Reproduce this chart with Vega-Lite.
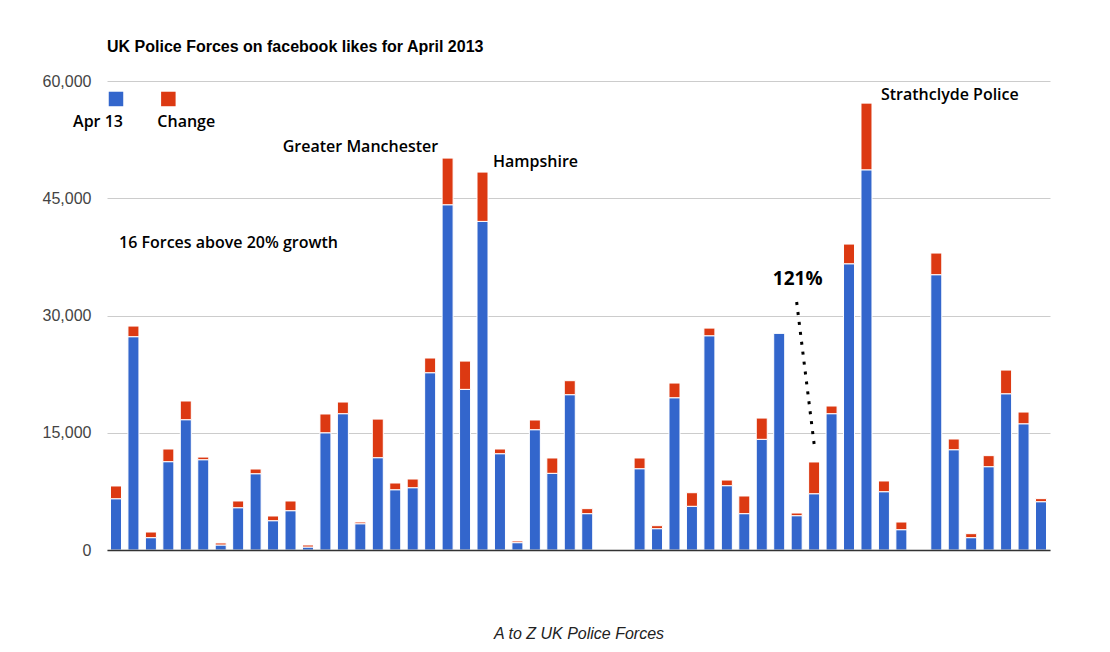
{
  "$schema": "https://vega.github.io/schema/vega-lite/v6.json",
  "width": 943,
  "height": 469,
  "autosize": {"type": "none"},
  "padding": {"left": 107, "top": 81, "right": 60, "bottom": 102},
  "background": "white",
  "title": {
    "text": "UK Police Forces on facebook likes for April 2013",
    "anchor": "start",
    "frame": "group",
    "font": "Liberation Sans",
    "fontSize": 16,
    "fontWeight": "bold",
    "color": "#000",
    "offset": 18
  },
  "config": {"view": {"stroke": null}},
  "encoding": {
    "x": {
      "field": "force",
      "type": "ordinal",
      "scale": {
        "domain": [1,2,3,4,5,6,7,8,9,10,11,12,13,14,15,16,17,18,19,20,21,22,23,24,25,26,27,28,29,30,31,32,33,34,35,36,37,38,39,40,41,42,43,44,45,46,47,48,49,50,51,52,53,54],
        "paddingInner": 0.37,
        "paddingOuter": 0.2
      },
      "axis": {
        "title": "A to Z UK Police Forces",
        "labels": false,
        "ticks": false,
        "grid": false,
        "domainColor": "#333",
        "domainWidth": 1.5,
        "titleFont": "Liberation Sans",
        "titleFontSize": 16,
        "titleFontStyle": "italic",
        "titleFontWeight": "normal",
        "titleColor": "#222",
        "titlePadding": 75,
        "zindex": 1
      }
    },
    "y": {
      "field": "v",
      "type": "quantitative",
      "scale": {"domain": [0, 60000]},
      "axis": {
        "title": null,
        "values": [0, 15000, 30000, 45000, 60000],
        "format": ",d",
        "ticks": false,
        "domain": false,
        "gridColor": "#ccc",
        "labelFont": "Liberation Sans",
        "labelFontSize": 16,
        "labelColor": "#444",
        "labelPadding": 16
      }
    }
  },
  "layer": [
    {
      "data": {
        "values": [
          {"force": 1, "Apr 13": 6560, "Change": 1630},
          {"force": 2, "Apr 13": 27290, "Change": 1360},
          {"force": 3, "Apr 13": 1580, "Change": 720},
          {"force": 4, "Apr 13": 11300, "Change": 1620},
          {"force": 5, "Apr 13": 16670, "Change": 2390},
          {"force": 6, "Apr 13": 11550, "Change": 340},
          {"force": 7, "Apr 13": 640, "Change": 260},
          {"force": 8, "Apr 13": 5410, "Change": 860},
          {"force": 9, "Apr 13": 9760, "Change": 600},
          {"force": 10, "Apr 13": 3750, "Change": 600},
          {"force": 11, "Apr 13": 5030, "Change": 1240},
          {"force": 12, "Apr 13": 380, "Change": 260},
          {"force": 13, "Apr 13": 15000, "Change": 2400},
          {"force": 14, "Apr 13": 17440, "Change": 1490},
          {"force": 15, "Apr 13": 3360, "Change": 220},
          {"force": 16, "Apr 13": 11810, "Change": 4940},
          {"force": 17, "Apr 13": 7710, "Change": 860},
          {"force": 18, "Apr 13": 7970, "Change": 1110},
          {"force": 19, "Apr 13": 22680, "Change": 1880},
          {"force": 20, "Apr 13": 44170, "Change": 5970},
          {"force": 21, "Apr 13": 20550, "Change": 3620},
          {"force": 22, "Apr 13": 42040, "Change": 6310},
          {"force": 23, "Apr 13": 12320, "Change": 600},
          {"force": 24, "Apr 13": 940, "Change": 210},
          {"force": 25, "Apr 13": 15390, "Change": 1240},
          {"force": 26, "Apr 13": 9810, "Change": 1960},
          {"force": 27, "Apr 13": 19870, "Change": 1790},
          {"force": 28, "Apr 13": 4650, "Change": 640},
          {"force": 31, "Apr 13": 10400, "Change": 1370},
          {"force": 32, "Apr 13": 2730, "Change": 380},
          {"force": 33, "Apr 13": 19480, "Change": 1880},
          {"force": 34, "Apr 13": 5590, "Change": 1740},
          {"force": 35, "Apr 13": 27410, "Change": 980},
          {"force": 36, "Apr 13": 8230, "Change": 720},
          {"force": 37, "Apr 13": 4650, "Change": 2260},
          {"force": 38, "Apr 13": 14160, "Change": 2720},
          {"force": 39, "Apr 13": 27750, "Change": 0},
          {"force": 40, "Apr 13": 4390, "Change": 340},
          {"force": 41, "Apr 13": 7200, "Change": 4060},
          {"force": 42, "Apr 13": 17440, "Change": 980},
          {"force": 43, "Apr 13": 36620, "Change": 2520},
          {"force": 44, "Apr 13": 48640, "Change": 8530},
          {"force": 45, "Apr 13": 7460, "Change": 1370},
          {"force": 46, "Apr 13": 2600, "Change": 980},
          {"force": 48, "Apr 13": 35220, "Change": 2770},
          {"force": 49, "Apr 13": 12830, "Change": 1370},
          {"force": 50, "Apr 13": 1580, "Change": 510},
          {"force": 51, "Apr 13": 10660, "Change": 1410},
          {"force": 52, "Apr 13": 19990, "Change": 3030},
          {"force": 53, "Apr 13": 16150, "Change": 1500},
          {"force": 54, "Apr 13": 6180, "Change": 390}
        ]
      },
      "transform": [{"fold": ["Apr 13", "Change"], "as": ["series", "v"]}],
      "mark": {"type": "bar", "stroke": "white", "strokeWidth": 1},
      "encoding": {
        "color": {
          "field": "series",
          "type": "nominal",
          "scale": {"domain": ["Apr 13", "Change"], "range": ["#3366cc", "#dc3912"]},
          "legend": null
        },
        "order": {"field": "series", "sort": "ascending"}
      }
    },
    {
      "data": {"values": [{"force": 1, "v": 57700, "series": "Apr 13"}]},
      "mark": {"type": "square", "size": 210, "opacity": 1, "filled": true, "dx": -1},
      "encoding": {"color": {"field": "series", "type": "nominal", "legend": null}}
    },
    {
      "data": {"values": [{"force": 4, "v": 57700, "series": "Change"}]},
      "mark": {"type": "square", "size": 210, "opacity": 1, "filled": true, "dx": -5},
      "encoding": {"color": {"field": "series", "type": "nominal", "legend": null}}
    },
    {
      "data": {"values": [{"force": 1, "v": 54115, "label": "Apr 13"}]},
      "mark": {"type": "text", "align": "right", "baseline": "alphabetic", "dx": 7, "font": "Open Sans", "fontWeight": 600, "fontSize": 16, "color": "#000"},
      "encoding": {"text": {"field": "label"}}
    },
    {
      "data": {"values": [{"force": 4, "v": 54115, "label": "Change"}]},
      "mark": {"type": "text", "align": "left", "baseline": "alphabetic", "dx": -11, "font": "Open Sans", "fontWeight": 600, "fontSize": 16, "color": "#000"},
      "encoding": {"text": {"field": "label"}}
    },
    {
      "data": {"values": [{"force": 19, "v": 50920, "label": "Greater Manchester"}]},
      "mark": {"type": "text", "align": "right", "baseline": "alphabetic", "dx": 8, "font": "Open Sans", "fontWeight": 600, "fontSize": 16, "color": "#000"},
      "encoding": {"text": {"field": "label"}}
    },
    {
      "data": {"values": [{"force": 23, "v": 49040, "label": "Hampshire"}]},
      "mark": {"type": "text", "align": "left", "baseline": "alphabetic", "dx": -7, "font": "Open Sans", "fontWeight": 600, "fontSize": 16, "color": "#000"},
      "encoding": {"text": {"field": "label"}}
    },
    {
      "data": {"values": [{"force": 1, "v": 38600, "label": "16 Forces above 20% growth"}]},
      "mark": {"type": "text", "align": "left", "baseline": "alphabetic", "dx": 3, "font": "Open Sans", "fontWeight": 600, "fontSize": 16, "color": "#000"},
      "encoding": {"text": {"field": "label"}}
    },
    {
      "data": {"values": [{"force": 45, "v": 57570, "label": "Strathclyde Police"}]},
      "mark": {"type": "text", "align": "left", "baseline": "alphabetic", "dx": -3, "font": "Open Sans", "fontWeight": 600, "fontSize": 16, "color": "#000"},
      "encoding": {"text": {"field": "label"}}
    },
    {
      "data": {"values": [{"force": 40, "v": 33940, "label": "121%"}]},
      "mark": {"type": "text", "align": "center", "baseline": "alphabetic", "dx": 1, "font": "Open Sans", "fontWeight": "bold", "fontSize": 19, "color": "#000"},
      "encoding": {"text": {"field": "label"}}
    },
    {
      "data": {"values": [{"force": 40, "v": 31720}, {"force": 41, "v": 13560}]},
      "mark": {"type": "line", "color": "#000", "strokeWidth": 3, "strokeDash": [3, 7], "strokeCap": "butt"},
      "encoding": {}
    }
  ]
}
